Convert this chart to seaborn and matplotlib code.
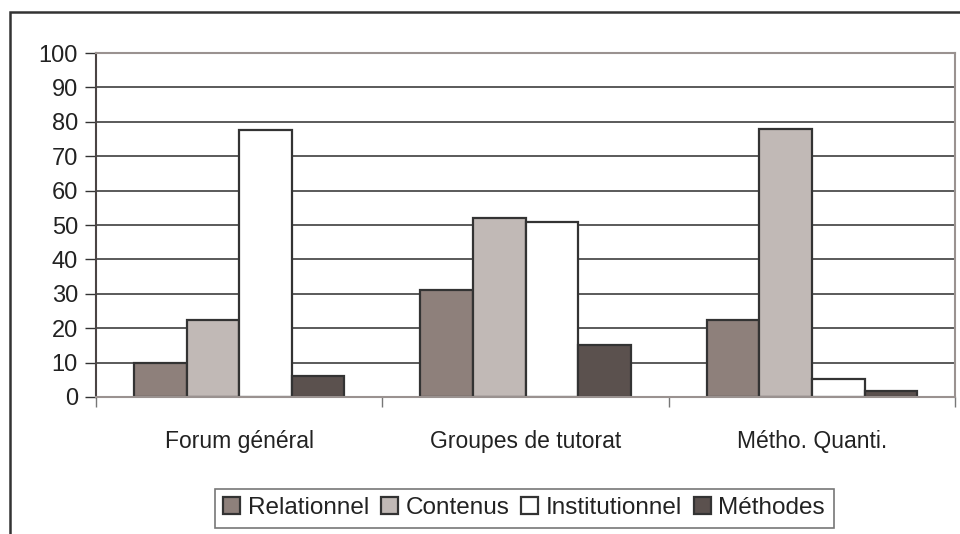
import pandas as pd
import matplotlib.pyplot as plt
import seaborn as sns
from matplotlib.patches import Rectangle

# data
groups = ["Forum général", "Groupes de tutorat", "Métho. Quanti."]
categories = ["Relationnel", "Contenus", "Institutionnel", "Méthodes"]
relationnel = [10, 31, 22.3]
contenus = [22.3, 52, 77.8]
institutionnel = [77.6, 51, 5.2]
methodes = [6, 15.2, 1.7]
yticks = [0, 10, 20, 30, 40, 50, 60, 70, 80, 90, 100]

colors = ["#8e807b", "#c1b9b6", "#ffffff", "#5b514e"]

rows = []
for i, g in enumerate(groups):
    for cat, vals in zip(categories, [relationnel, contenus, institutionnel, methodes]):
        rows.append({"groupe": g, "type": cat, "valeur": vals[i]})
df = pd.DataFrame(rows)

sns.set_style("white")
plt.rcParams['font.family'] = ['Liberation Sans', 'DejaVu Sans']

fig = plt.figure(figsize=(9.6, 5.34), dpi=100)
ax = fig.add_axes([0.1, 0.2566, 0.895, 0.644])

sns.barplot(data=df, x="groupe", y="valeur", hue="type", hue_order=categories,
            palette=colors, width=0.735, gap=0, edgecolor="#333333", linewidth=1.6,
            saturation=1, legend=True, ax=ax)

ax.set_ylim(0, 100)
ax.set_xlim(-0.5, 2.5)
ax.set_yticks(yticks)
ax.yaxis.grid(True, color="#2e2e2e", linewidth=1.1)
ax.set_axisbelow(True)
ax.set_xlabel("")
ax.set_ylabel("")

ax.tick_params(axis="y", labelsize=17, length=8, width=1, color="#333333", pad=5,
               labelcolor="#222222", left=True)
ax.set_xticks([-0.5, 0.5, 1.5, 2.5], minor=True)
ax.tick_params(axis="x", which="minor", length=7, width=1, color="#777777", bottom=True)
ax.tick_params(axis="x", which="major", length=0, labelsize=16.5, pad=24, labelcolor="#222222")

for side in ["top", "right", "bottom"]:
    ax.spines[side].set_color("#9a9290")
    ax.spines[side].set_linewidth(1.5)
ax.spines["left"].set_color("#4a4444")
ax.spines["left"].set_linewidth(1.5)

handles, labels = ax.get_legend_handles_labels()
ax.legend_.remove()
leg = fig.legend(handles, labels, ncol=4, loc="center", bbox_to_anchor=(0.546, 0.048),
                 fontsize=17.5, frameon=True, fancybox=False, edgecolor="#555555",
                 handlelength=0.7, handleheight=0.7, handletextpad=0.3,
                 columnspacing=0.5, borderpad=0.35, borderaxespad=0)
leg.get_frame().set_linewidth(1.2)
for t in leg.get_texts():
    t.set_color("#222222")

# outer frame of the chart
fig.patches.append(Rectangle((10 / 960, -0.1), 1.2, 0.9775 + 0.1, transform=fig.transFigure,
                             fill=False, edgecolor="#333333", linewidth=1.8))

fig.savefig("out.png", dpi=100)
